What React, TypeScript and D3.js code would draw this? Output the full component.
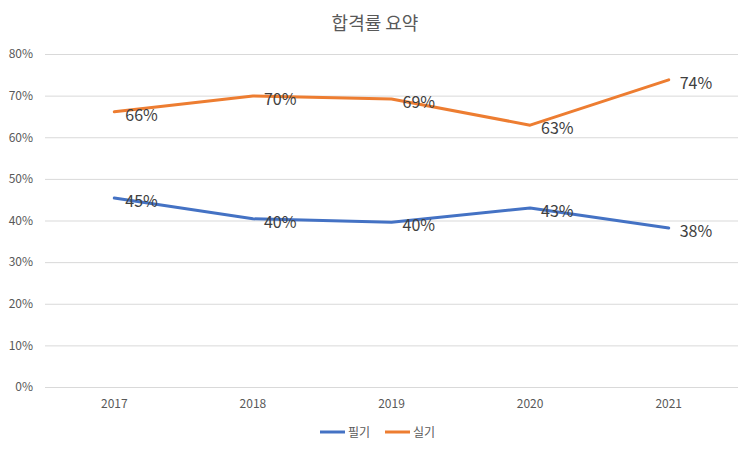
import { useEffect, useRef } from "react"
import * as d3 from "d3"

const years = ["2017", "2018", "2019", "2020", "2021"]
const writtenRates = [0.454, 0.404, 0.396, 0.43, 0.382]
const practicalRates = [0.661, 0.699, 0.692, 0.629, 0.738]
const yTicks = [0, 0.1, 0.2, 0.3, 0.4, 0.5, 0.6, 0.7, 0.8]

const series = [
  { name: "필기", values: writtenRates, color: "#4472C4" },
  { name: "실기", values: practicalRates, color: "#ED7D31" },
]

const FONT = "'Noto Sans CJK KR', 'Noto Sans', sans-serif"

export default function App() {
  const svgRef = useRef<SVGSVGElement | null>(null)

  useEffect(() => {
    if (!svgRef.current) return
    const svg = d3.select(svgRef.current)
    svg.selectAll("*").remove()

    const width = 750
    const height = 450
    const margin = { top: 54, right: 12, bottom: 63, left: 45 }

    const x = d3
      .scaleBand<string>()
      .domain(years)
      .range([margin.left, width - margin.right])
    const y = d3
      .scaleLinear()
      .domain([0, 0.8])
      .range([height - margin.bottom, margin.top])
    const cx = (yr: string) => (x(yr) ?? 0) + x.bandwidth() / 2

    svg
      .append("text")
      .text("합격률 요약")
      .attr("x", width / 2)
      .attr("y", 30)
      .attr("text-anchor", "middle")
      .attr("font-size", 18)
      .attr("fill", "#595959")
      .attr("font-family", FONT)

    // gridlines + y labels
    const yAxis = d3
      .axisLeft(y)
      .tickValues(yTicks)
      .tickSize(-(width - margin.left - margin.right))
      .tickPadding(12)
      .tickFormat((d) => d3.format(".0%")(d as number))
    svg
      .append("g")
      .attr("transform", `translate(${margin.left},0)`)
      .call(yAxis)
      .call((g) => g.select(".domain").remove())
      .call((g) => g.selectAll("line").attr("stroke", "#D9D9D9"))
      .call((g) =>
        g
          .selectAll("text")
          .attr("fill", "#595959")
          .attr("font-size", 12)
          .attr("font-family", FONT)
      )

    const xAxis = d3.axisBottom(x).tickSize(0).tickPadding(12)
    svg
      .append("g")
      .attr("transform", `translate(0,${height - margin.bottom})`)
      .call(xAxis)
      .call((g) => g.select(".domain").remove())
      .call((g) =>
        g
          .selectAll("text")
          .attr("fill", "#595959")
          .attr("font-size", 12)
          .attr("font-family", FONT)
      )

    const line = d3
      .line<number>()
      .x((_, i) => cx(years[i]))
      .y((d) => y(d))

    series.forEach((s) => {
      svg
        .append("path")
        .datum(s.values)
        .attr("d", line)
        .attr("fill", "none")
        .attr("stroke", s.color)
        .attr("stroke-width", 3)
        .attr("stroke-linejoin", "round")
        .attr("stroke-linecap", "round")

      svg
        .append("g")
        .selectAll("text")
        .data(s.values)
        .join("text")
        .text((d) => d3.format(".0%")(d))
        .attr("x", (_, i) => cx(years[i]) + 11)
        .attr("y", (d) => y(d) + 9)
        .attr("font-size", 16)
        .attr("fill", "#404040")
        .attr("font-family", FONT)
    })

    // legend
    const legend = svg.append("g").attr("transform", `translate(320,432)`)
    series.forEach((s, i) => {
      const g = legend.append("g").attr("transform", `translate(${i * 65},0)`)
      g.append("line")
        .attr("x1", 0)
        .attr("x2", 25)
        .attr("y1", 0)
        .attr("y2", 0)
        .attr("stroke", s.color)
        .attr("stroke-width", 3)
      g.append("text")
        .text(s.name)
        .attr("x", 28)
        .attr("y", 4.5)
        .attr("font-size", 12)
        .attr("fill", "#595959")
        .attr("font-family", FONT)
    })
  }, [])

  return (
    <svg
      ref={svgRef}
      width={750}
      height={450}
      style={{ position: "absolute", left: 0, top: 0, background: "#fff" }}
    />
  )
}
